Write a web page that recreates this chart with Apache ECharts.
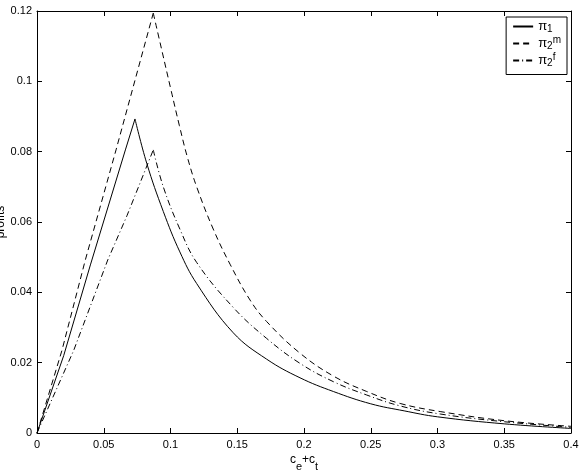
<!DOCTYPE html>
<html>
<head>
<meta charset="utf-8">
<script src="https://cdn.jsdelivr.net/npm/echarts@6/dist/echarts.min.js"></script>
<style>
html,body{margin:0;padding:0;background:#fff;}
#c{width:582px;height:472px;}
</style>
</head>
<body>
<div id="c"></div>
<script>
// Data
const xTicks = [0, 0.05, 0.1, 0.15, 0.2, 0.25, 0.3, 0.35, 0.4];
const yTicks = [0, 0.02, 0.04, 0.06, 0.08, 0.1, 0.12];

// pi_1 (solid): rising branch and falling branch (peak shared)
const pi1RiseX = [0, 0.02, 0.04, 0.0662, 0.0734];
const pi1RiseY = [0, 0.022, 0.0478, 0.0805, 0.0893];
const pi1FallX = [0.0734, 0.0822, 0.0946, 0.107, 0.1196, 0.147, 0.172, 0.197, 0.222, 0.25, 0.275, 0.3, 0.35, 0.4];
const pi1FallY = [0.0893, 0.0767, 0.063, 0.0515, 0.0425, 0.0285, 0.021, 0.0157, 0.0118, 0.0083, 0.0063, 0.0046, 0.0026, 0.0013];

// pi_2^m (dashed)
const pi2mRiseX = [0, 0.0187, 0.0362, 0.0592, 0.0871];
const pi2mRiseY = [0, 0.0235, 0.0492, 0.0805, 0.1194];
const pi2mFallX = [0.0871, 0.0934, 0.1004, 0.1066, 0.1126, 0.1196, 0.132, 0.1446, 0.1596, 0.172, 0.197, 0.222, 0.247, 0.272, 0.302, 0.35, 0.4];
const pi2mFallY = [0.1194, 0.109, 0.0975, 0.0875, 0.0785, 0.07, 0.058, 0.048, 0.0378, 0.0317, 0.0227, 0.0162, 0.0118, 0.0084, 0.0061, 0.0035, 0.0019];

// pi_2^f (dash-dot)
const pi2fRiseX = [0, 0.0275, 0.053, 0.0674, 0.0871];
const pi2fRiseY = [0, 0.0235, 0.0492, 0.0618, 0.0805];
const pi2fFallX = [0.0871, 0.0946, 0.107, 0.1196, 0.147, 0.172, 0.197, 0.222, 0.247, 0.272, 0.302, 0.35, 0.4];
const pi2fFallY = [0.0805, 0.07, 0.058, 0.0485, 0.0357, 0.0269, 0.0198, 0.0146, 0.0108, 0.0077, 0.0054, 0.0032, 0.0016];

const seriesNames = ['pi1', 'pi2m', 'pi2f'];
const legendLabels = {
  pi1: '{p|π}{sub|1}',
  pi2m: '{p|π}{sub|2}{sup|m}',
  pi2f: '{p|π}{sub|2}{sup|f}'
};

function pairs(xs, ys) { return xs.map((x, i) => [x, ys[i]]); }

const FONT = 'Liberation Sans, Arial, sans-serif';
const chart = echarts.init(document.getElementById('c'), null, {renderer: 'canvas'});

const axisCommon = {
  type: 'value',
  axisLine: {show: true, onZero: false, lineStyle: {color: '#000', width: 1}},
  axisTick: {show: true, inside: true, length: 5, lineStyle: {color: '#000'}},
  splitLine: {show: false}
};

const styles = {
  pi1: {color: '#000', width: 1, type: 'solid'},
  pi2m: {color: '#000', width: 1, type: [6, 4]},
  pi2f: {color: '#000', width: 1, type: [6, 3, 1, 3]}
};

function mk(name, xs, ys, smooth) {
  return {name: name, type: 'line', data: pairs(xs, ys), showSymbol: false, symbol: 'none',
    smooth: smooth,
    lineStyle: styles[name], itemStyle: {color: '#000'}, emphasis: {disabled: true}};
}

chart.setOption({
  animation: false,
  backgroundColor: '#fff',
  grid: {left: 37, right: 11, top: 11, bottom: 39, containLabel: false, outerBoundsMode: 'none'},
  xAxis: [
    Object.assign({}, axisCommon, {
      min: 0, max: 0.4, interval: 0.05, position: 'bottom',
      axisLabel: {color: '#000', fontFamily: FONT, fontSize: 11, margin: 6,
        formatter: v => { const t = xTicks.find(k => Math.abs(k - v) < 1e-9); return t === undefined ? '' : String(t); }},
      name: '{c|c}{sub|e}{c|+c}{sub|t}',
      nameLocation: 'middle', nameGap: 21, nameMoveOverlap: false,
      nameTextStyle: {fontFamily: FONT, color: '#000',
        rich: {c: {fontFamily: FONT, fontSize: 12, color: '#000', lineHeight: 18, verticalAlign: 'top'},
               sub: {fontFamily: FONT, fontSize: 11, color: '#000', lineHeight: 18, verticalAlign: 'bottom'}}}
    }),
    Object.assign({}, axisCommon, {
      min: 0, max: 0.4, interval: 0.05, position: 'top',
      axisLabel: {show: false}
    })
  ],
  yAxis: [
    Object.assign({}, axisCommon, {
      min: 0, max: 0.12, interval: 0.02, position: 'left',
      axisLabel: {color: '#000', fontFamily: FONT, fontSize: 11, margin: 5,
        formatter: v => { const t = yTicks.find(k => Math.abs(k - v) < 1e-9); return t === undefined ? '' : String(t); }},
      name: 'profits', nameLocation: 'middle', nameGap: 30, nameRotate: 90, nameMoveOverlap: false,
      nameTextStyle: {fontFamily: FONT, fontSize: 12, color: '#000'}
    }),
    Object.assign({}, axisCommon, {
      min: 0, max: 0.12, interval: 0.02, position: 'right',
      axisLabel: {show: false}
    })
  ],
  legend: {
    show: true,
    orient: 'vertical',
    right: 15, top: 17,
    data: seriesNames,
    backgroundColor: '#fff',
    borderColor: '#000', borderWidth: 1, borderRadius: 0,
    padding: [3, 6, 6, 6],
    itemWidth: 20, itemHeight: 10, itemGap: 1,
    itemStyle: {opacity: 0},
    formatter: n => legendLabels[n],
    textStyle: {fontFamily: FONT, color: '#000',
      rich: {p: {fontFamily: FONT, fontSize: 13, color: '#000', lineHeight: 16, verticalAlign: 'middle'},
             sub: {fontFamily: FONT, fontSize: 10, color: '#000', lineHeight: 16, verticalAlign: 'bottom'},
             sup: {fontFamily: FONT, fontSize: 10, color: '#000', lineHeight: 16, verticalAlign: 'top'}}}
  },
  series: [
    mk('pi1', pi1RiseX, pi1RiseY, false),
    mk('pi1', pi1FallX, pi1FallY, 0.4),
    mk('pi2m', pi2mRiseX, pi2mRiseY, false),
    mk('pi2m', pi2mFallX, pi2mFallY, 0.4),
    mk('pi2f', pi2fRiseX, pi2fRiseY, false),
    mk('pi2f', pi2fFallX, pi2fFallY, 0.4)
  ]
});
</script>
</body>
</html>
